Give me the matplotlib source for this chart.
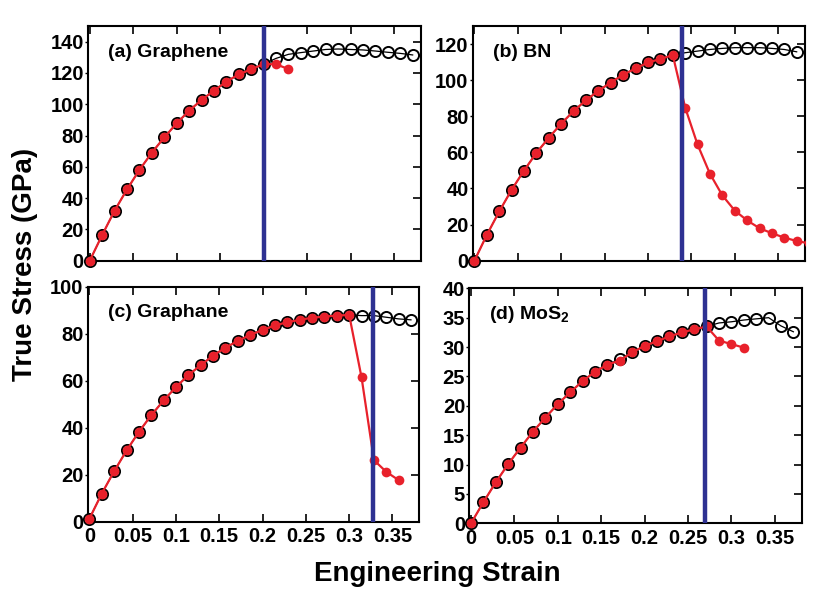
import matplotlib
matplotlib.use("Agg")
import matplotlib.pyplot as plt
from matplotlib.transforms import Bbox, TransformedBbox

plt.rcParams['font.family'] = ['Liberation Sans', 'DejaVu Sans']
plt.rcParams['font.weight'] = 'bold'
plt.rcParams['mathtext.fontset'] = 'custom'
plt.rcParams['mathtext.rm'] = 'Liberation Sans:bold'
plt.rcParams['mathtext.bf'] = 'Liberation Sans:bold'

# shared engineering strain grid
strain = [0, 0.0143, 0.0286, 0.0429, 0.0571, 0.0714, 0.0857, 0.1, 0.1143, 0.1286,
          0.1429, 0.1571, 0.1714, 0.1857, 0.2, 0.2143, 0.2286, 0.2429, 0.2571, 0.2714,
          0.2857, 0.3, 0.3143, 0.3286, 0.3429, 0.3571, 0.3714, 0.3857]

# (a) Graphene
graphene_black = [0, 16.4, 32, 45.6, 58, 69, 78.8, 87.8, 95.9, 102.7, 108.7, 114.4, 119.1,
                  122.3, 125.7, 129.3, 131.9, 133, 134, 135, 135.3, 135, 134.7, 134, 133.2,
                  132.5, 131.5]
graphene_red = [0, 16.4, 32, 45.6, 58, 69, 78.8, 87.8, 95.9, 102.7, 108.7, 114.4, 119.1,
                122.3, 125.7, 125.5, 122.5]
graphene_vline = 0.2

# (b) BN
bn_black = [0, 14.3, 27.3, 39.3, 49.9, 59.7, 68.1, 75.9, 82.9, 88.9, 94.1, 98.7, 103,
            106.5, 109.8, 111.7, 113.9, 115.2, 116.1, 117, 117.6, 118, 118, 118, 117.6,
            117, 115.7]
bn_red = [0, 14.3, 27.3, 39.3, 49.9, 59.7, 68.1, 75.9, 82.9, 88.9, 94.1, 98.7, 103,
          106.5, 109.8, 111.7, 113.9, 84.8, 64.4, 48.2, 36.2, 27.8, 22.3, 18, 15.2,
          12.8, 10.9, 9.6]
bn_vline = 0.239

# (c) Graphane
graphane_black = [1.3, 12, 21.5, 30.3, 38.2, 45.3, 51.6, 57.3, 62.4, 66.6, 70.7, 74.1,
                  76.9, 79.5, 81.6, 83.5, 84.9, 85.9, 86.8, 87.3, 87.7, 88, 87.7, 87.7,
                  87, 86.3, 85.9]
graphane_red = [1.3, 12, 21.5, 30.3, 38.2, 45.3, 51.6, 57.3, 62.4, 66.6, 70.7, 74.1,
                76.9, 79.5, 81.6, 83.5, 84.9, 85.9, 86.8, 87.3, 87.7, 88, 61.4, 26.2,
                21.2, 17.7]
graphane_vline = 0.328

# (d) MoS2
mos2_black = [0, 3.6, 7, 10.1, 12.9, 15.6, 18, 20.3, 22.3, 24.2, 25.8, 27, 27.9, 29.1,
              30.2, 31, 31.8, 32.5, 33, 33.5, 34.1, 34.3, 34.6, 34.8, 35, 33.6, 32.6]
mos2_red = [0, 3.6, 7, 10.1, 12.9, 15.6, 18, 20.3, 22.3, 24.2, 25.8, 27, 27.7, 29.1,
            30.2, 31, 31.8, 32.5, 33, 33.5, 31.1, 30.5, 29.9]
mos2_vline = 0.27

xticks = [0, 0.05, 0.1, 0.15, 0.2, 0.25, 0.3, 0.35]
xticklabels = ['0', '0.05', '0.1', '0.15', '0.2', '0.25', '0.3', '0.35']

panels = [
    dict(label='(a) Graphene', black=graphene_black, red=graphene_red, vline=graphene_vline,
         ylim=(0, 150), yticks=list(range(0, 141, 20)),
         pos=[88/829, (595-260.7)/595, 333/829, 234.7/595], bottom=False),
    dict(label='(b) BN', black=bn_black, red=bn_red, vline=bn_vline,
         ylim=(0, 130), yticks=list(range(0, 121, 20)),
         pos=[472.7/829, (595-260.7)/595, 332.3/829, 234.7/595], bottom=False),
    dict(label='(c) Graphane', black=graphane_black, red=graphane_red, vline=graphane_vline,
         ylim=(0, 100), yticks=list(range(0, 101, 20)),
         pos=[87.7/829, (595-521.7)/595, 331.6/829, 235/595], bottom=True),
    dict(label=r'(d) MoS$_{2}$', black=mos2_black, red=mos2_red,
         vline=mos2_vline, ylim=(0, 40), yticks=list(range(0, 41, 5)),
         pos=[469.3/829, (595-523.3)/595, 332.4/829, 235/595], bottom=True),
]

RED = '#e8212b'
NAVY = '#2e3192'

fig = plt.figure(figsize=(8.29, 5.95), dpi=100)
for p in panels:
    ax = fig.add_axes(p['pos'])
    nb = len(p['black'])
    nr = len(p['red'])
    clip = TransformedBbox(Bbox([[-0.06, -0.06], [1.0, 1.06]]), ax.transAxes)
    lb, = ax.plot(strain[:nb], p['black'], color='black', lw=0.9, marker='o', ms=8,
                  mfc='none', mec='black', mew=1.4, zorder=3)
    lr, = ax.plot(strain[:nr], p['red'], color=RED, lw=1.6, marker='o', ms=7.0,
                  mfc=RED, mec=RED, mew=0, zorder=4)
    for ln in (lb, lr):
        ln.set_clip_path(None)
        ln.set_clip_box(clip)
    ax.axvline(p['vline'], color=NAVY, lw=3.2, zorder=5)
    ax.set_xlim(-0.002, 0.381)
    ax.set_ylim(*p['ylim'])
    ax.set_yticks(p['yticks'])
    ax.set_xticks(xticks)
    if p['bottom']:
        ax.set_xticklabels(xticklabels)
    else:
        ax.set_xticklabels([])
    ax.tick_params(axis='x', which='both', direction='in', top=True, bottom=True,
                   length=6, width=1.2, labelsize=14.5, pad=4)
    ax.tick_params(axis='y', which='both', left=True, right=False, direction='out',
                   length=2, width=1.0, labelsize=14.5, pad=1)
    sec = ax.secondary_yaxis('right')
    sec.set_yticks(p['yticks'])
    sec.set_yticklabels([])
    sec.tick_params(axis='y', direction='in', length=6, width=1.2)
    sec.spines['right'].set_visible(False)
    for s in ax.spines.values():
        s.set_linewidth(1.5)
    for lab in ax.get_xticklabels() + ax.get_yticklabels():
        lab.set_fontweight('bold')
    ax.text(0.06, 0.87, p['label'], transform=ax.transAxes, fontsize=14,
            fontweight='bold', ha='left', va='baseline', zorder=6)

fig.text(0.030, 0.556, 'True Stress (GPa)', rotation=90, fontsize=20,
         fontweight='bold', ha='center', va='center')
fig.text(437/829, 0.0235, 'Engineering Strain', fontsize=20, fontweight='bold',
         ha='center', va='baseline')

fig.savefig('out.png', dpi=100)
